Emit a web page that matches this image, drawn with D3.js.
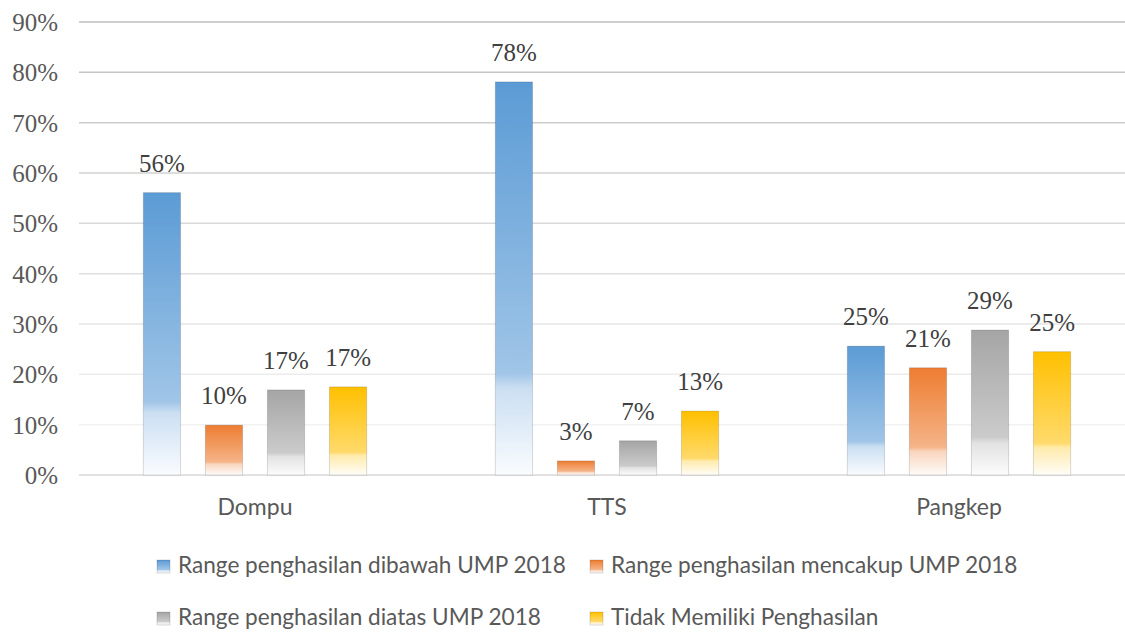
<!DOCTYPE html>
<html>
<head>
<meta charset="utf-8">
<script src="https://cdn.jsdelivr.net/npm/d3@7"></script>
<style>
  html, body { margin: 0; padding: 0; background: #fff; overflow: hidden; }
  svg { display: block; }
</style>
</head>
<body>
<div id="chart"></div>
<script>
// data
const categories = ['Dompu', 'TTS', 'Pangkep'];
const seriesNames = [
  'Range penghasilan dibawah UMP 2018',
  'Range penghasilan mencakup UMP 2018',
  'Range penghasilan diatas UMP 2018',
  'Tidak Memiliki Penghasilan'
];
const dibawah  = [0.561, 0.781, 0.256];
const mencakup = [0.099, 0.028, 0.213];
const diatas   = [0.169, 0.068, 0.288];
const tidak    = [0.175, 0.127, 0.245];
const labels   = [['56%', '78%', '25%'], ['10%', '3%', '21%'], ['17%', '7%', '29%'], ['17%', '13%', '25%']];
const yTicks   = [0, 0.1, 0.2, 0.3, 0.4, 0.5, 0.6, 0.7, 0.8, 0.9];
const colors   = ['#5b9bd5', '#ed7d31', '#a5a5a5', '#ffc000'];

const series = [dibawah, mencakup, diatas, tidak];

const SERIF = "'Liberation Serif', 'DejaVu Serif', serif";
const SANS = "Lato, 'Open Sans', sans-serif";

const W = 1125, H = 632;
const svg = d3.select('#chart').append('svg').attr('width', W).attr('height', H);

// plot area runs past the right edge (the reference is cropped there)
const x0 = d3.scaleBand().domain(categories).range([79, 1135]).paddingInner(0.295).paddingOuter(0.1475);
const x1 = d3.scaleBand().domain(d3.range(4)).range([0, x0.bandwidth()]).paddingInner(0.4).paddingOuter(0.2);
const y = d3.scaleLinear().domain([0, 0.9]).range([475, 22]);

// gradients: full colour on top, fading to white at the bottom
const defs = svg.append('defs');
colors.forEach((c, i) => {
  const mix = t => d3.interpolateRgb(c, '#ffffff')(t);
  const gr = defs.append('linearGradient').attr('id', 'g' + i)
    .attr('x1', 0).attr('y1', 0).attr('x2', 0).attr('y2', 1);
  [[0, 0], [0.74, 0.42], [0.78, 0.68], [1, 0.97]].forEach(([o, t]) => {
    gr.append('stop').attr('offset', o).attr('stop-color', mix(t));
  });
});

// gridlines get lighter towards the bottom
const gridColor = d3.scaleLinear().domain([0.1, 0.9]).range(['#f2f2f2', '#bfbfbf']);
svg.append('g').selectAll('line').data(yTicks).join('line')
  .attr('x1', 79).attr('x2', 1135)
  .attr('y1', d => y(d)).attr('y2', d => y(d))
  .attr('stroke', d => d === 0 ? '#d9d9d9' : gridColor(d))
  .attr('stroke-width', 1.5);

// y axis labels
const yAxis = d3.axisLeft(y).tickValues(yTicks).tickFormat(d3.format('.0%')).tickSize(0).tickPadding(0);
svg.append('g').attr('transform', 'translate(58,0)').call(yAxis)
  .call(g => g.select('.domain').remove())
  .selectAll('text')
  .style('font-family', SERIF)
  .style('font-size', '25px').attr('fill', '#595959').attr('dy', '0.34em');

// bars
const groups = svg.append('g').selectAll('g').data(categories).join('g')
  .attr('transform', d => `translate(${x0(d)},0)`);

groups.selectAll('rect').data((d, ci) => series.map((s, si) => ({ si, ci, v: s[ci] }))).join('rect')
  .attr('x', d => x1(d.si))
  .attr('width', x1.bandwidth())
  .attr('y', d => y(d.v))
  .attr('height', d => y(0) - y(d.v))
  .attr('fill', d => `url(#g${d.si})`)
  .attr('stroke', 'rgba(0,0,0,0.14)')
  .attr('stroke-width', 1);

groups.selectAll('text').data((d, ci) => series.map((s, si) => ({ si, ci, v: s[ci] }))).join('text')
  .attr('x', d => x1(d.si) + x1.bandwidth() / 2)
  .attr('y', d => y(d.v) - 21)
  .attr('text-anchor', 'middle')
  .style('font-family', SERIF)
  .style('font-size', '25px').attr('fill', '#404040')
  .text(d => labels[d.si][d.ci]);

// category axis labels
const xAxis = d3.axisBottom(x0).tickSize(0).tickPadding(0);
svg.append('g').attr('transform', 'translate(0,515)').call(xAxis)
  .call(g => g.select('.domain').remove())
  .selectAll('text')
  .attr('dy', 0)
  .style('font-family', SANS)
  .style('font-size', '23px').attr('fill', '#595959');

// legend, two rows of two
const legendPos = [[157, 573], [590, 573], [157, 625], [590, 625]];
const legend = svg.append('g').selectAll('g').data(seriesNames).join('g')
  .attr('transform', (d, i) => `translate(${legendPos[i][0]},${legendPos[i][1]})`);
legend.append('rect')
  .attr('x', 0).attr('y', -13).attr('width', 13).attr('height', 13)
  .attr('fill', (d, i) => `url(#g${i})`)
  .attr('stroke', 'rgba(0,0,0,0.14)');
legend.append('text')
  .attr('x', 21).attr('y', 0)
  .style('font-family', SANS)
  .style('font-size', '22.6px').attr('fill', '#595959')
  .text(d => d);
</script>
</body>
</html>
